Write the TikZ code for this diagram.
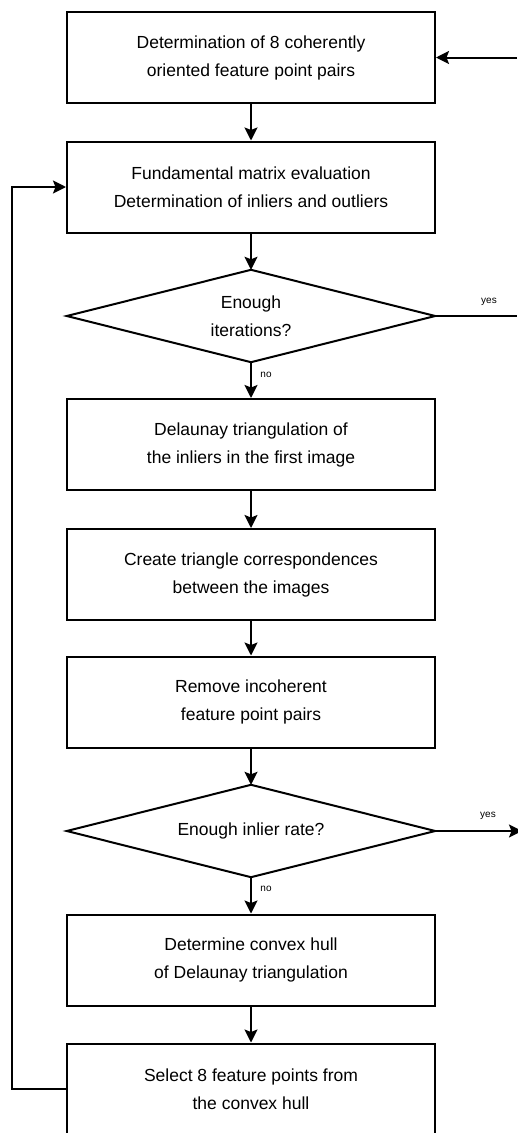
\documentclass[tikz,border=0pt]{standalone}
\usepackage{fontspec}
\setmainfont{Liberation Sans}
\usetikzlibrary{arrows.meta}
\begin{document}
\begin{tikzpicture}[x=1pt,y=-1pt,
  box/.style={draw,line width=2pt,minimum width=368pt,minimum height=91pt,
    align=center,font=\fontsize{17.5}{28}\selectfont,inner sep=0pt},
  decbox/.style={minimum width=368pt,minimum height=92pt,align=center,
    font=\fontsize{17.5}{28}\selectfont,inner sep=0pt},
  decline/.style={line width=2pt,line join=miter},
  conn/.style={line width=2pt,-{Stealth[length=13pt,width=13pt,inset=2.5pt]}},
  plain/.style={line width=2pt},
  lbl/.style={font=\fontsize{10}{11}\selectfont,inner sep=0pt}]
\useasboundingbox (0,0) rectangle (517,1133);
\fill[white] (0,0) rectangle (517,1133);

\node[box] (b1) at (251,57.5) {Determination of 8 coherently\\ oriented feature point pairs};
\node[box] (b2) at (251,187) {Fundamental matrix evaluation\\Determination of inliers and outliers};
\node[decbox] (d1) at (251,316) {Enough\\iterations?};
\draw[decline] (d1.north) -- (d1.east) -- (d1.south) -- (d1.west) -- cycle;
\node[box] (b3) at (251,444.5) {Delaunay triangulation of\\the inliers in the first image};
\node[box] (b4) at (251,574.5) {Create triangle correspondences\\between the images};
\node[box] (b5) at (251,702) {Remove incoherent\\ feature point pairs};
\node[decbox] (d2) at (251,831) {Enough inlier rate?};
\draw[decline] (d2.north) -- (d2.east) -- (d2.south) -- (d2.west) -- cycle;
\node[box] (b6) at (251,960) {Determine convex hull\\of Delaunay triangulation};
\node[box] (b7) at (251,1089) {Select 8 feature points from\\the convex hull};

\coordinate (topin) at (517,57.5);
\coordinate (yes1) at (517,316);
\coordinate (yes2) at (522,831);
\coordinate (fbl) at (12,1089);
\coordinate (fbt) at (12,187);

\draw[conn] (topin) -- (b1.east);
\draw[conn] (b1.south) -- (b2.north);
\draw[conn] (b2.south) -- (d1.north);
\draw[conn] (d1.south) -- (b3.north);
\draw[conn] (b3.south) -- (b4.north);
\draw[conn] (b4.south) -- (b5.north);
\draw[conn] (b5.south) -- (d2.north);
\draw[conn] (d2.south) -- (b6.north);
\draw[conn] (b6.south) -- (b7.north);
\draw[plain] (d1.east) -- (yes1);
\draw[conn] (d2.east) -- (yes2);
\draw[conn] (b7.west) -- (fbl) -- (fbt) -- (b2.west);

\node[lbl] (yl1) at (489,302) {yes};
\node[lbl] (yl2) at (488,816) {yes};
\node[lbl] (nl1) at (266,375) {no};
\node[lbl] (nl2) at (266,889) {no};
\end{tikzpicture}
\end{document}
